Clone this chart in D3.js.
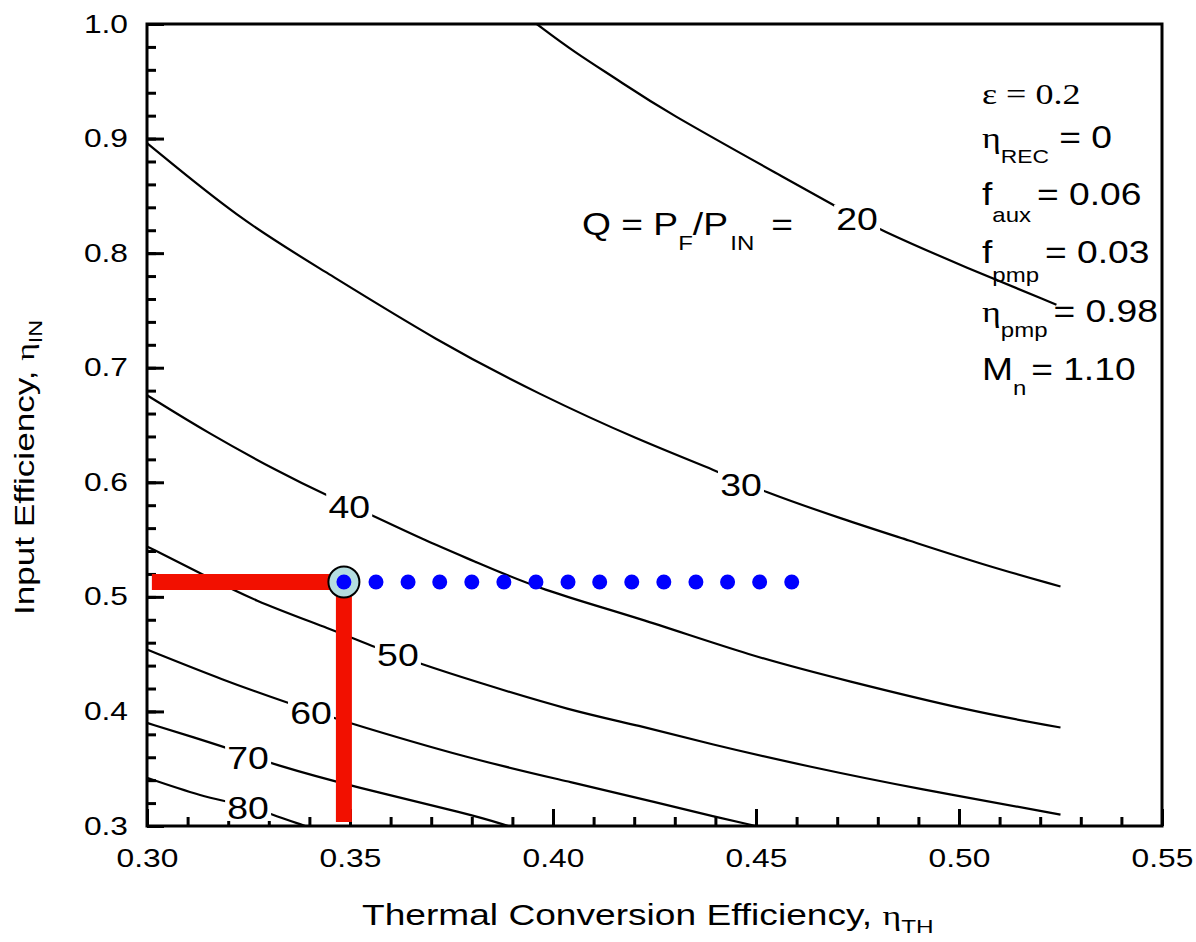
<!DOCTYPE html>
<html>
<head>
<meta charset="utf-8">
<script src="https://cdn.jsdelivr.net/npm/d3@7"></script>
<style>
  body { margin: 0; background: #fff; }
  text { font-family: "Liberation Sans", Arial, sans-serif; fill: #000; }
</style>
</head>
<body>
<svg id="chart" width="1196" height="942"></svg>
<script>
// Q = P_F/P_IN contour lines, points as [eta_TH, eta_IN]
var q20 = [[0.396,1.0],[0.405,0.976],[0.417,0.949],[0.426,0.927],[0.461,0.858],[0.470,0.840],[0.480,0.821],[0.502,0.787],[0.524,0.755]];
var q30 = [[0.300,0.896],[0.323,0.829],[0.342,0.788],[0.372,0.722],[0.397,0.676],[0.421,0.637],[0.441,0.609],[0.451,0.593],[0.472,0.567],[0.487,0.550],[0.506,0.528],[0.525,0.509]];
var q40 = [[0.300,0.676],[0.315,0.643],[0.333,0.608],[0.344,0.589],[0.355,0.572],[0.368,0.550],[0.380,0.532],[0.397,0.506],[0.421,0.482],[0.449,0.448],[0.472,0.427],[0.503,0.400],[0.525,0.386]];
var q50 = [[0.300,0.544],[0.313,0.521],[0.326,0.497],[0.346,0.471],[0.356,0.456],[0.367,0.442],[0.380,0.427],[0.405,0.400],[0.421,0.388],[0.438,0.372],[0.464,0.351],[0.489,0.333],[0.525,0.310]];
var q60 = [[0.300,0.454],[0.319,0.427],[0.335,0.407],[0.346,0.394],[0.380,0.358],[0.405,0.338],[0.426,0.320],[0.440,0.308],[0.450,0.300]];
var q70 = [[0.300,0.390],[0.311,0.378],[0.325,0.362],[0.330,0.355],[0.351,0.334],[0.380,0.310],[0.389,0.300]];
var q80 = [[0.300,0.342],[0.315,0.324],[0.325,0.318],[0.330,0.311],[0.339,0.300]];

var qLevels = ["20", "30", "40", "50", "60", "70", "80"];
var qCurves = [q20, q30, q40, q50, q60, q70, q80];
// where each level number sits on its line
var qLabelAt = [[0.4749,0.830],[0.4463,0.5985],[0.3498,0.5785],[0.3618,0.4493],[0.3404,0.3995],[0.3249,0.3602],[0.3249,0.3166]];

// chosen design point and the eta_TH scan (blue dots) at the same eta_IN
var designPoint = [0.3485, 0.513];
var scanX = [0.3485,0.3564,0.3643,0.3721,0.3800,0.3879,0.3958,0.4037,0.4115,0.4194,0.4273,0.4352,0.4430,0.4509,0.4588];
var guideFromX = 0.3012, guideToY = 0.3035;

var xTicks = [0.30, 0.35, 0.40, 0.45, 0.50, 0.55];
var xTickLabels = ["0.30", "0.35", "0.40", "0.45", "0.50", "0.55"];
var yTicks = [0.3, 0.4, 0.5, 0.6, 0.7, 0.8, 0.9, 1.0];
var yTickLabels = ["0.3", "0.4", "0.5", "0.6", "0.7", "0.8", "0.9", "1.0"];

var svg = d3.select("#chart");
var serif = '"Liberation Serif", "Times New Roman", serif';

var x = d3.scaleLinear().domain([0.30, 0.55]).range([147, 1162]);
var y = d3.scaleLinear().domain([0.3, 1.0]).range([826, 24]);

// minor ticks
var xMinor = d3.range(0, 26).map(function(i){ return 0.30 + i * 0.01; });
var yMinor = d3.range(0, 36).map(function(i){ return 0.3 + i * 0.02; });

svg.append("g")
    .attr("transform", "translate(0,826)")
    .call(d3.axisBottom(x).tickValues(xMinor).tickSize(-9).tickSizeOuter(0).tickFormat(""))
    .call(function(g){ g.select(".domain").remove(); g.selectAll("line").attr("stroke-width", 3); });
svg.append("g")
    .attr("transform", "translate(147,0)")
    .call(d3.axisLeft(y).tickValues(yMinor).tickSize(-9).tickSizeOuter(0).tickFormat(""))
    .call(function(g){ g.select(".domain").remove(); g.selectAll("line").attr("stroke-width", 3); });

var xAxis = svg.append("g")
    .attr("transform", "translate(0,826)")
    .call(d3.axisBottom(x).tickValues(xTicks).tickSize(-17).tickSizeOuter(0).tickPadding(23)
      .tickFormat(function(d, i){ return xTickLabels[i]; }));
xAxis.select(".domain").remove();
xAxis.selectAll("line").attr("stroke-width", 3);
xAxis.selectAll("text")
    .attr("font-family", null).attr("font-size", 25)
    .attr("transform", "scale(1.27,1)");

var yAxis = svg.append("g")
    .attr("transform", "translate(147,0)")
    .call(d3.axisLeft(y).tickValues(yTicks).tickSize(-17).tickSizeOuter(0)
      .tickFormat(function(d, i){ return yTickLabels[i]; }));
yAxis.select(".domain").remove();
yAxis.selectAll("line").attr("stroke-width", 3);
yAxis.selectAll("text")
    .attr("font-family", null).attr("font-size", 25)
    .attr("x", -19 / 1.27)
    .attr("transform", "scale(1.27,1)");

// frame
svg.append("rect")
    .attr("x", 147).attr("y", 24)
    .attr("width", 1162 - 147).attr("height", 826 - 24)
    .attr("fill", "none").attr("stroke", "#000").attr("stroke-width", 3);

// contour lines
var line = d3.line()
    .x(function(d){ return x(d[0]); })
    .y(function(d){ return y(d[1]); })
    .curve(d3.curveBasis);

svg.append("g").selectAll("path")
    .data(qCurves)
  .enter().append("path")
    .attr("d", line)
    .attr("fill", "none")
    .attr("stroke", "#000")
    .attr("stroke-width", 2.2);

// level labels with a white gap in the line
var lab = svg.append("g").selectAll("g")
    .data(qLevels)
  .enter().append("g")
    .attr("transform", function(d, i){ return "translate(" + x(qLabelAt[i][0]) + "," + y(qLabelAt[i][1]) + ")"; });
lab.append("rect")
    .attr("x", -23).attr("y", -14).attr("width", 46).attr("height", 28)
    .attr("fill", "#fff");
lab.append("text")
    .attr("text-anchor", "middle")
    .attr("dy", "0.36em")
    .attr("font-size", 32)
    .attr("transform", "scale(1.17,1)")
    .text(function(d){ return d; });

// red guide lines to the design point
svg.append("line")
    .attr("x1", x(guideFromX)).attr("x2", x(designPoint[0]))
    .attr("y1", y(designPoint[1])).attr("y2", y(designPoint[1]))
    .attr("stroke", "#f21000").attr("stroke-width", 16);
svg.append("line")
    .attr("x1", x(designPoint[0])).attr("x2", x(designPoint[0]))
    .attr("y1", y(designPoint[1])).attr("y2", y(guideToY))
    .attr("stroke", "#f21000").attr("stroke-width", 16);

svg.append("circle")
    .attr("cx", x(designPoint[0])).attr("cy", y(designPoint[1]))
    .attr("r", 15.5)
    .attr("fill", "#b4dde0").attr("stroke", "#000").attr("stroke-width", 2);

svg.append("g").selectAll("circle")
    .data(scanX)
  .enter().append("circle")
    .attr("cx", function(d){ return x(d); })
    .attr("cy", y(designPoint[1]))
    .attr("r", 7.5)
    .attr("fill", "#0000ff");

// text with sub-scripts, stretched a bit to match the figure's lettering
function rich(px, py, parts, sx, rot) {
  var t = svg.append("text")
      .attr("transform", "translate(" + px + "," + py + ")" + (rot ? " rotate(" + rot + ")" : "") + " scale(" + sx + ",1)");
  parts.forEach(function(p){
    var s = t.append("tspan").text(p.t).attr("font-size", p.size);
    if (p.dy) s.attr("dy", p.dy);
    if (p.dx) s.attr("dx", p.dx);
    if (p.serif) s.attr("font-family", serif);
  });
  return t;
}

rich(582, 235, [
  {t: "Q = P", size: 31},
  {t: "F", size: 20, dy: 15},
  {t: "/P", size: 31, dy: -15},
  {t: "IN", size: 20, dy: 15, dx: 2},
  {t: "=", size: 31, dy: -15, dx: 14}
], 1.2);

rich(982, 104, [{t: "\u03b5 = 0.2", size: 30, serif: true}], 1.2);
rich(982, 148, [
  {t: "\u03b7", size: 30, serif: true},
  {t: "REC", size: 19, dy: 15},
  {t: " = 0", size: 31, dy: -15}
], 1.2);
rich(982, 205, [
  {t: "f", size: 31},
  {t: "aux", size: 20, dy: 17},
  {t: "= 0.06", size: 31, dy: -17, dx: 5}
], 1.2);
rich(982, 263, [
  {t: "f", size: 31},
  {t: "pmp", size: 20, dy: 19},
  {t: "= 0.03", size: 31, dy: -19, dx: 5}
], 1.2);
rich(982, 322, [
  {t: "\u03b7", size: 30, serif: true},
  {t: "pmp", size: 20, dy: 15},
  {t: "= 0.98", size: 31, dy: -15, dx: 5}
], 1.2);
rich(982, 380, [
  {t: "M", size: 31},
  {t: "n", size: 20, dy: 15},
  {t: "= 1.10", size: 31, dy: -15, dx: 4}
], 1.2);

// axis titles
rich(362, 925, [
  {t: "Thermal Conversion Efficiency, ", size: 29},
  {t: "\u03b7", size: 28, serif: true},
  {t: "TH", size: 19, dy: 8}
], 1.28);
rich(34, 615, [
  {t: "Input Efficiency, ", size: 27},
  {t: "\u03b7", size: 26, serif: true},
  {t: "IN", size: 18, dy: 8}
], 1.3, -90);
</script>
</body>
</html>
